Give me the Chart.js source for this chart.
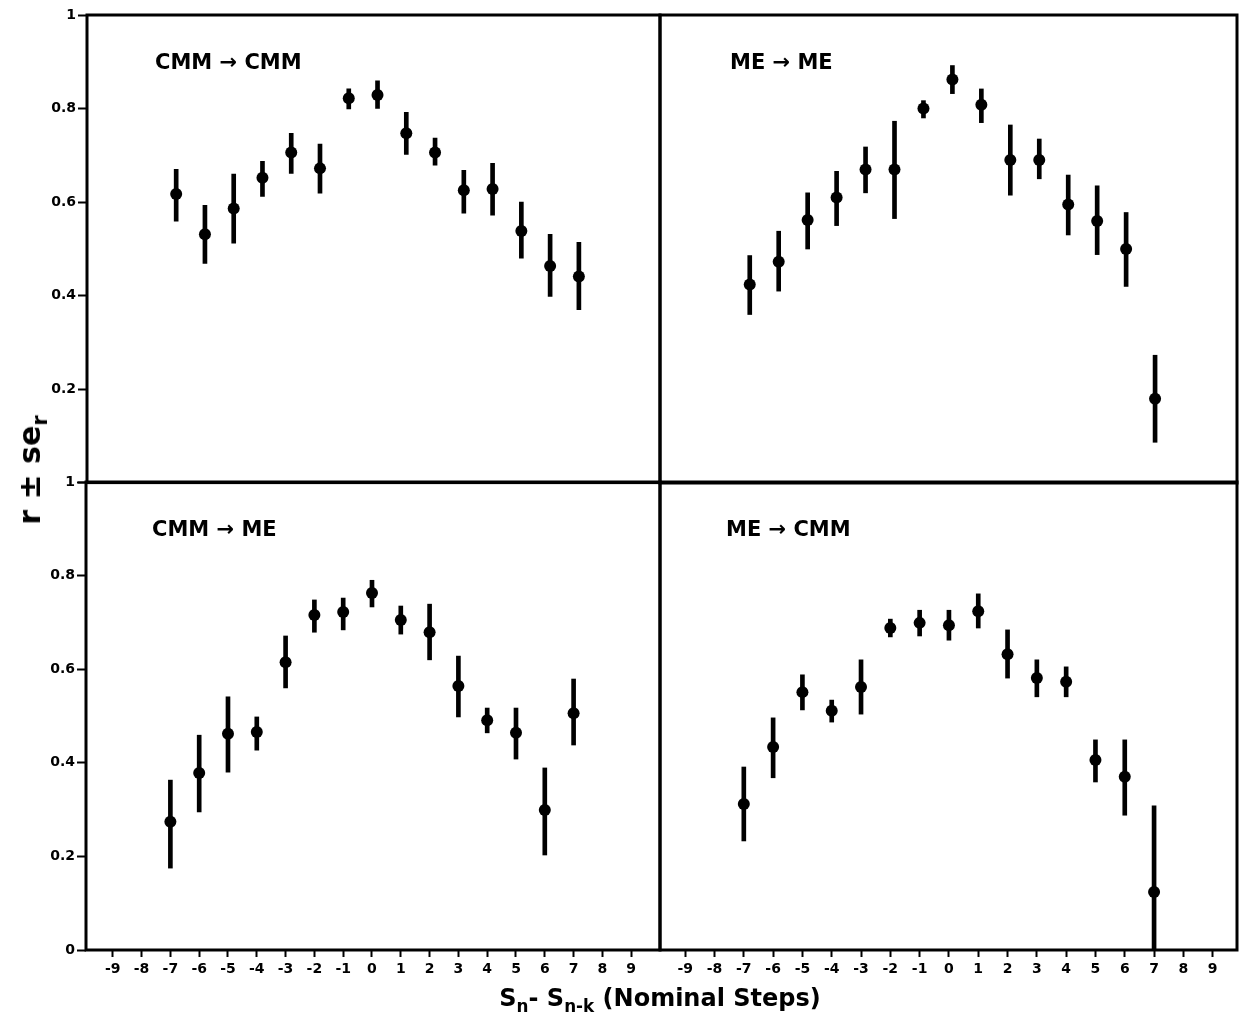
<!DOCTYPE html>
<html>
<head>
<meta charset="utf-8">
<script src="https://cdn.jsdelivr.net/npm/chart.js@4.4.1/dist/chart.umd.min.js"></script>
<style>
  body { margin: 0; background: #fff; width: 1247px; height: 1017px; position: relative; overflow: hidden;
         font-family: "DejaVu Sans", sans-serif; font-weight: bold; color: #000; }
  canvas { position: absolute; }
  .ptitle { position: absolute; font-size: 21px; line-height: 21px; white-space: nowrap; }
  .ytitle { position: absolute; left: 30px; top: 470px; font-size: 30px; line-height: 30px; white-space: nowrap;
            transform: translate(-50%, -50%) rotate(-90deg); }
  .xtitle { position: absolute; left: 660px; top: 984px; font-size: 24px; line-height: 28px; white-space: nowrap;
            transform: translateX(-50%); }
  sub { font-size: 70%; vertical-align: -0.35em; line-height: 0; }
</style>
</head>
<body>
<canvas id="cTL" width="666" height="493" style="left:0;top:0"></canvas>
<canvas id="cTR" width="607" height="489" style="left:640px;top:0"></canvas>
<canvas id="cBL" width="666" height="555" style="left:0;top:462px"></canvas>
<canvas id="cBR" width="607" height="555" style="left:640px;top:462px"></canvas>

<div class="ptitle" style="left:155px;top:52px">CMM → CMM</div>
<div class="ptitle" style="left:730px;top:52px">ME → ME</div>
<div class="ptitle" style="left:152px;top:519px">CMM → ME</div>
<div class="ptitle" style="left:726px;top:519px">ME → CMM</div>
<div class="ytitle">r ± se<sub>r</sub></div>
<div class="xtitle">S<sub>n</sub>- S<sub>n-k</sub> (Nominal Steps)</div>

<script>
const steps = [-7, -6, -5, -4, -3, -2, -1, 0, 1, 2, 3, 4, 5, 6, 7];
const xTickValues = [-9, -8, -7, -6, -5, -4, -3, -2, -1, 0, 1, 2, 3, 4, 5, 6, 7, 8, 9];
const yTickValues = [0, 0.2, 0.4, 0.6, 0.8, 1];

// CMM -> CMM
const cmmCmmR  = [0.617, 0.531, 0.586, 0.652, 0.706, 0.672, 0.822, 0.829, 0.747, 0.706, 0.625, 0.628, 0.538, 0.463, 0.441];
const cmmCmmLo = [0.559, 0.469, 0.512, 0.612, 0.661, 0.619, 0.799, 0.800, 0.702, 0.679, 0.576, 0.572, 0.480, 0.398, 0.370];
const cmmCmmHi = [0.670, 0.593, 0.660, 0.687, 0.747, 0.724, 0.842, 0.859, 0.792, 0.737, 0.668, 0.683, 0.600, 0.531, 0.514];

// ME -> ME
const meMeR  = [0.424, 0.473, 0.562, 0.610, 0.670, 0.670, 0.800, 0.862, 0.808, 0.690, 0.690, 0.595, 0.560, 0.500, 0.180];
const meMeLo = [0.360, 0.410, 0.500, 0.550, 0.620, 0.565, 0.780, 0.832, 0.770, 0.615, 0.650, 0.530, 0.488, 0.420, 0.087];
const meMeHi = [0.486, 0.538, 0.620, 0.666, 0.718, 0.773, 0.817, 0.892, 0.842, 0.765, 0.735, 0.658, 0.635, 0.578, 0.273];

// CMM -> ME
const cmmMeR  = [0.274, 0.378, 0.462, 0.466, 0.615, 0.716, 0.722, 0.763, 0.705, 0.679, 0.564, 0.491, 0.464, 0.299, 0.506];
const cmmMeLo = [0.175, 0.295, 0.380, 0.427, 0.560, 0.679, 0.684, 0.733, 0.675, 0.620, 0.498, 0.464, 0.408, 0.203, 0.438];
const cmmMeHi = [0.363, 0.459, 0.541, 0.498, 0.671, 0.748, 0.752, 0.790, 0.735, 0.739, 0.628, 0.517, 0.517, 0.389, 0.579];

// ME -> CMM
const meCmmR  = [0.312, 0.434, 0.551, 0.511, 0.562, 0.688, 0.699, 0.694, 0.724, 0.632, 0.581, 0.573, 0.406, 0.370, 0.124];
const meCmmLo = [0.233, 0.368, 0.513, 0.487, 0.504, 0.669, 0.671, 0.662, 0.688, 0.581, 0.541, 0.541, 0.359, 0.288, 0.000];
const meCmmHi = [0.391, 0.496, 0.588, 0.534, 0.620, 0.707, 0.726, 0.726, 0.761, 0.684, 0.620, 0.605, 0.449, 0.449, 0.308];

const INK = "#000";
const TICK_FONT = { family: "DejaVu Sans", size: 14, weight: "bold" };

// thick frame round each panel's plot area
const framePlugin = {
  id: "frame",
  afterDraw(chart) {
    const a = chart.chartArea;
    const ctx = chart.ctx;
    ctx.save();
    ctx.strokeStyle = INK;
    ctx.lineWidth = 3;
    ctx.strokeRect(a.left, a.top, a.right - a.left, a.bottom - a.top);
    ctx.restore();
  },
};

function fmtY(v) {
  return v === 0 || v === 1 ? String(v) : v.toFixed(1);
}

function makePanel(id, r, lo, hi, opt) {
  const ctx = document.getElementById(id).getContext("2d");
  return new Chart(ctx, {
    type: "scatter",
    data: {
      datasets: [
        {
          type: "scatter",
          data: steps.map((s, i) => ({ x: s, y: r[i] })),
          backgroundColor: INK,
          borderColor: INK,
          pointRadius: 6,
          pointBorderWidth: 0,
          order: 0,
        },
        {
          // error bars: floating bars from r - se to r + se
          type: "bar",
          data: steps.map((s, i) => ({ x: s, y: [lo[i], hi[i]] })),
          backgroundColor: INK,
          borderWidth: 0,
          barThickness: 4,
          order: 1,
        },
      ],
    },
    plugins: [framePlugin],
    options: {
      responsive: false,
      animation: false,
      devicePixelRatio: 1,
      layout: { padding: opt.padding },
      plugins: { legend: { display: false }, tooltip: { enabled: false } },
      scales: {
        x: {
          type: "linear",
          min: opt.xMin,
          max: opt.xMax,
          offset: false,
          display: opt.showX,
          afterBuildTicks: (axis) => { axis.ticks = xTickValues.map((v) => ({ value: v })); },
          afterFit: (axis) => { axis.height = opt.showX ? 40 : 0; },
          ticks: { color: INK, font: TICK_FONT, padding: 4, maxRotation: 0, autoSkip: false,
                   callback: (v) => String(v) },
          grid: { offset: false, drawOnChartArea: false, drawTicks: true, tickLength: 7, tickWidth: 2, tickColor: INK },
          border: { display: false },
        },
        y: {
          type: "linear",
          min: 0,
          max: 1,
          display: opt.showY,
          afterBuildTicks: (axis) => { axis.ticks = yTickValues.map((v) => ({ value: v })); },
          afterFit: (axis) => { axis.width = opt.yWidth; },
          ticks: { color: INK, font: TICK_FONT, padding: 2, autoSkip: false,
                   callback: (v) => (opt.hideZero && v === 0 ? "" : fmtY(v)) },
          grid: { drawOnChartArea: false, drawTicks: true, tickLength: 9, tickWidth: 2, tickColor: INK },
          border: { display: false },
        },
      },
    },
  });
}

makePanel("cTL", cmmCmmR, cmmCmmLo, cmmCmmHi, {
  xMin: -10.1, xMax: 9.82, showX: false, showY: true, yWidth: 87, hideZero: true,
  padding: { top: 15, right: 3, bottom: 3, left: 0 },
});
makePanel("cTR", meMeR, meMeLo, meMeHi, {
  xMin: -10.1, xMax: 9.83, showX: false, showY: false, yWidth: 0, hideZero: true,
  padding: { top: 15, right: 10, bottom: 3, left: 20 },
});
makePanel("cBL", cmmMeR, cmmMeLo, cmmMeHi, {
  xMin: -9.93, xMax: 10.0, showX: true, showY: true, yWidth: 86, hideZero: false,
  padding: { top: 20, right: 3, bottom: 27, left: 0 },
});
makePanel("cBR", meCmmR, meCmmLo, meCmmHi, {
  xMin: -9.86, xMax: 9.83, showX: true, showY: false, yWidth: 0, hideZero: false,
  padding: { top: 20, right: 10, bottom: 27, left: 20 },
});
</script>
</body>
</html>
